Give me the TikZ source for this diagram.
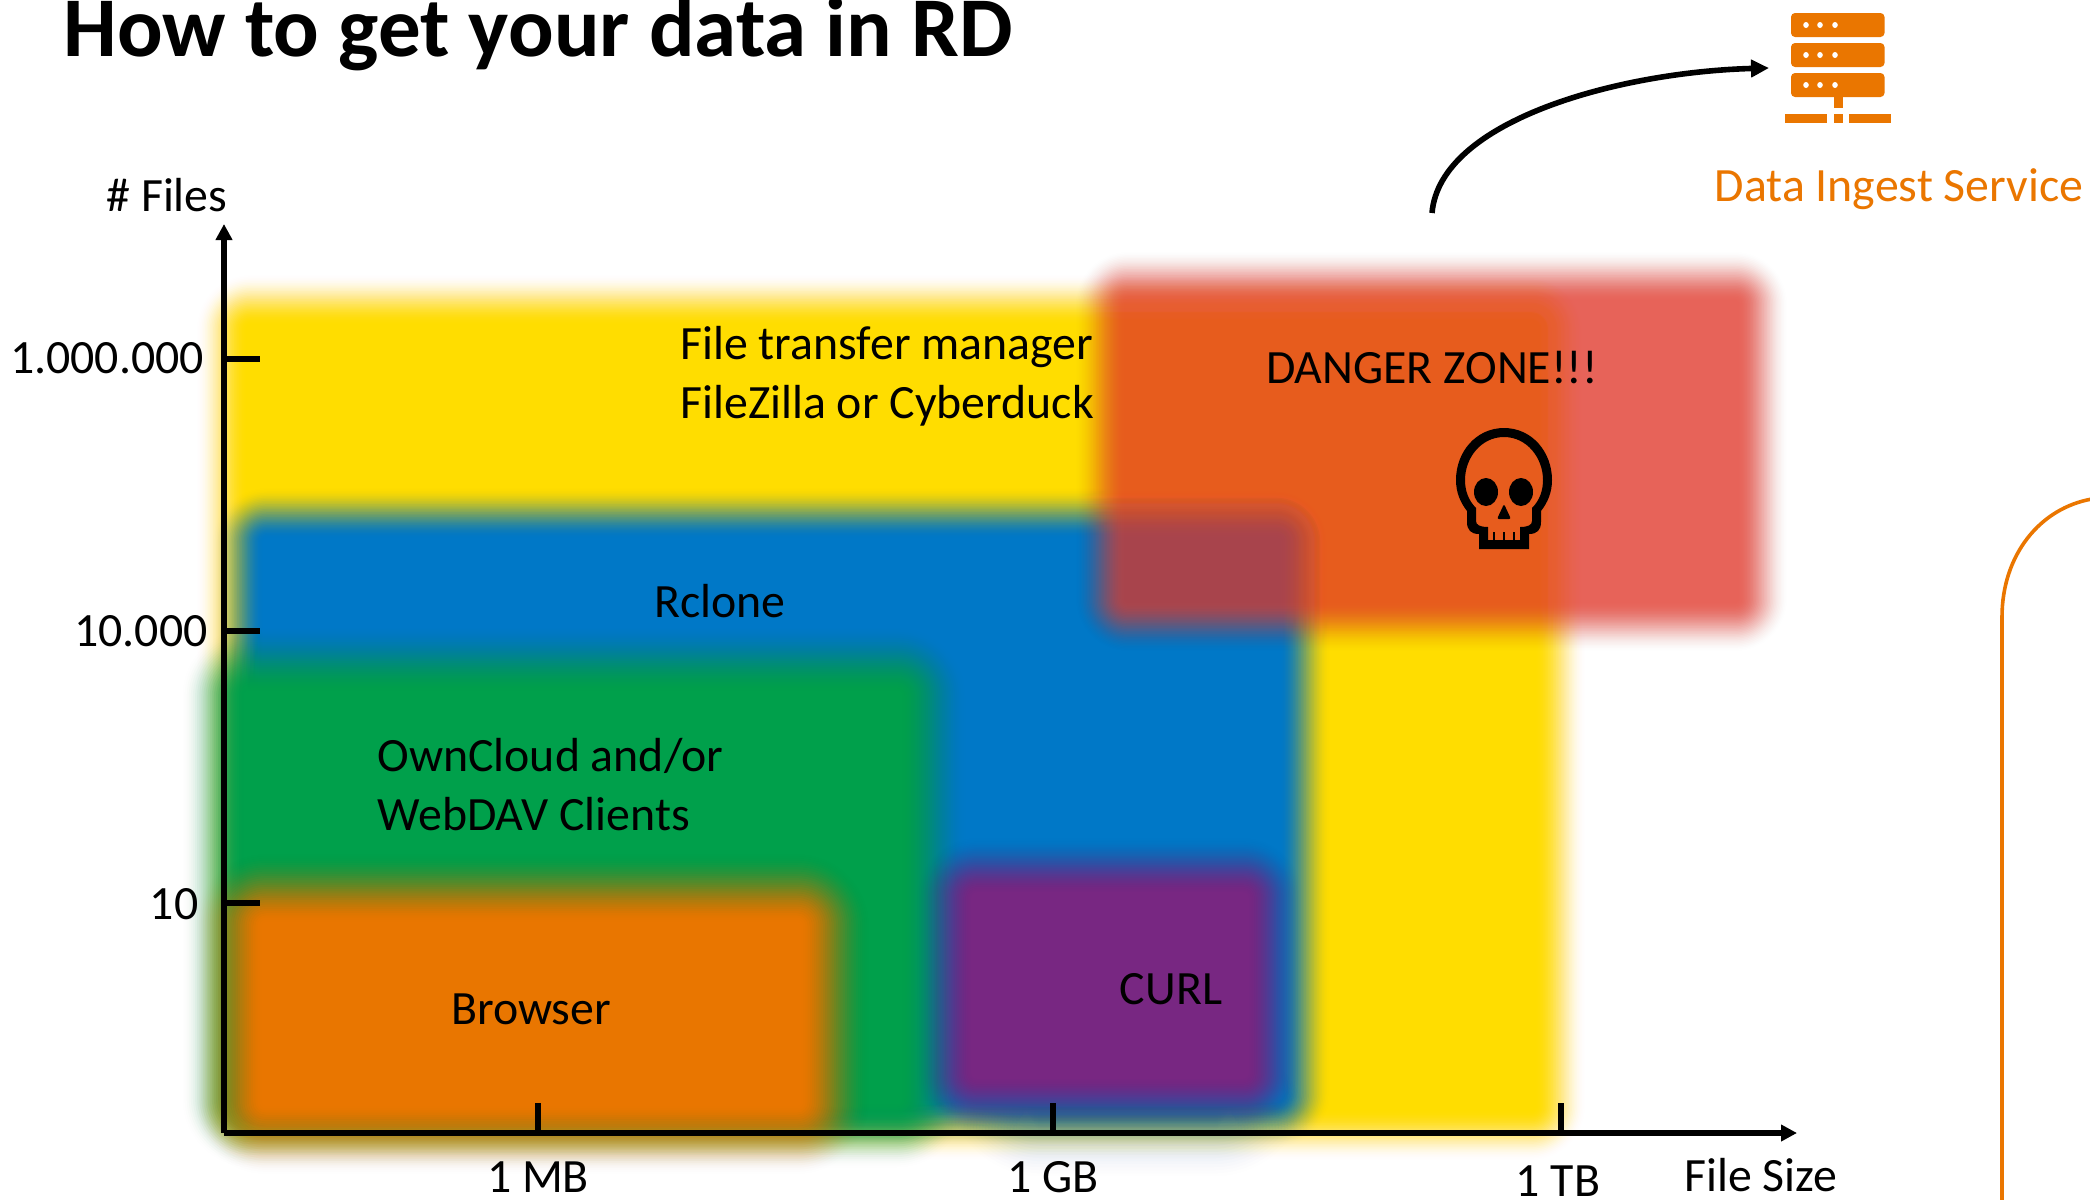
\documentclass[tikz,border=0pt]{standalone}
\usepackage{fontspec}
\setmainfont{Carlito}
\usetikzlibrary{arrows.meta}
\definecolor{cyellow}{HTML}{FFDD00}
\definecolor{cblue}{HTML}{0078C8}
\definecolor{cgreen}{HTML}{00A14B}
\definecolor{corange}{HTML}{EA7600}
\definecolor{cpurple}{HTML}{792782}
\definecolor{cdanger}{RGB}{231,62,48}
\newcommand{\softrect}[7]{%
  % colour, x1, y1, x2, y2, final alpha, blur width
  \gdef\prevC{0}%
  \foreach \k in {1,...,32}{%
    \pgfmathsetmacro{\tt}{\k/32}%
    \pgfmathsetmacro{\curC}{#6*\tt*\tt*(3-2*\tt)}%
    \pgfmathsetmacro{\aa}{min(1,(\curC-\prevC)/(1-\prevC+0.00001))}%
    \pgfmathsetmacro{\off}{#7/2-#7*(\k-1)/31}%
    \pgfmathsetmacro{\rr}{0.5*(\off+#7/2+4)}%
    \fill[#1,fill opacity=\aa,rounded corners=\rr pt]
      ({#2-\off},{#3-\off}) rectangle ({#4+\off},{#5+\off});
    \global\let\prevC\curC
  }%
}
\tikzset{
  lbl/.style={font=\fontsize{23.9}{27}\selectfont,text=black,inner sep=0pt,anchor=base},
  lblw/.style={lbl,anchor=base west},
  axis/.style={line width=3pt,black},
  tick/.style={line width=3pt,black},
  flow/.style={line width=2.8pt,black,-{Triangle[length=9pt,width=8.5pt]}},
  ruleline/.style={line width=1.8pt,corange},
  servicebar/.style={fill=corange,rounded corners=2pt},
  servicefoot/.style={fill=corange},
  servicedot/.style={fill=white}
}
\begin{document}
\begin{tikzpicture}[x=0.5pt,y=-0.5pt]
\fill[white] (0,0) rectangle (2090,1200);
\useasboundingbox (0,0) rectangle (2090,1200);
% blurred regions
\softrect{cyellow}{222}{300}{1560}{1135}{1}{50}
\softrect{cblue}{238}{513}{1305}{1122}{1}{50}
\softrect{cgreen}{215}{660}{933}{1135}{1}{65}
\softrect{corange}{228}{888}{835}{1140}{1}{68}
\softrect{cblue}{990}{1085}{1265}{1132}{0.45}{95}
\softrect{cpurple}{945}{866}{1275}{1105}{1}{56}
\softrect{cdanger}{1100}{276}{1763}{627}{0.76}{48}
% title
\node[anchor=base west,inner sep=0pt,font=\fontsize{42.5}{45}\selectfont\bfseries] (title) at (63,56) {How to get your data in RD};
% axes
\coordinate (o) at (224,1133);
\coordinate (xend) at (1797,1133);
\coordinate (yend) at (224,224);
\draw[axis,-{Triangle[length=8pt,width=8pt]}] (o) -- (xend);
\draw[axis,-{Triangle[length=8pt,width=8pt]}] (o) -- (yend);
\draw[tick] (538,1133) -- (538,1103);
\draw[tick] (1053,1133) -- (1053,1103);
\draw[tick] (1561,1133) -- (1561,1103);
\draw[tick] (224,359) -- (260,359);
\draw[tick] (224,631) -- (260,631);
\draw[tick] (224,903) -- (260,903);
% axis labels
\node[lbl] (files) at (167,211) {\# Files};
\node[lbl] (y1) at (107,373) {1.000.000};
\node[lbl] (y2) at (141,646) {10.000};
\node[lbl] (y3) at (174,919) {10};
\node[lbl] (x1) at (538,1192) {1 MB};
\node[lbl] (x2) at (1053,1192) {1 GB};
\node[lbl] (x3) at (1558,1196) {1 TB};
\node[lbl] (xname) at (1761,1191) {File Size};
% region labels
\node[lblw] (ft1) at (680,359) {File transfer manager};
\node[lblw] (ft2) at (680,418) {FileZilla or Cyberduck};
\node[lbl] (dz) at (1432,383) {DANGER ZONE!!!};
\node[lbl] (rc) at (720,617) {Rclone};
\node[lblw] (oc1) at (377,771) {OwnCloud and/or};
\node[lblw] (oc2) at (377,830) {WebDAV Clients};
\node[lbl] (br) at (531,1024) {Browser};
\node[lbl] (cu) at (1171,1004) {CURL};
% skull
\fill[black,even odd rule]
  (1504,428) .. controls (1532,428) and (1552,452) .. (1552,480)
  .. controls (1552,492) and (1548,502) .. (1541,511) -- (1541,522)
  .. controls (1541,530) and (1537,534) .. (1529,534) -- (1529,549) -- (1479,549) -- (1479,534)
  .. controls (1471,534) and (1467,530) .. (1467,522) -- (1467,511)
  .. controls (1460,502) and (1456,492) .. (1456,480)
  .. controls (1456,452) and (1476,428) .. (1504,428) -- cycle
  (1504,437) .. controls (1527,437) and (1543,458) .. (1543,480)
  .. controls (1543,490) and (1540,500) .. (1532,508) -- (1532,521)
  .. controls (1532,525) and (1528,527) .. (1520,527) -- (1520,540) -- (1488,540) -- (1488,527)
  .. controls (1480,527) and (1476,525) .. (1476,521) -- (1476,508)
  .. controls (1468,500) and (1465,490) .. (1465,480)
  .. controls (1465,458) and (1481,437) .. (1504,437) -- cycle;
\fill[black] (1486,492) ellipse (12 and 14);
\fill[black] (1521,492) ellipse (12 and 14);
\fill[black,rounded corners=1pt] (1504,504) -- (1511,519) -- (1497,519) -- cycle;
\draw[black,line width=1pt] (1494,532) -- (1494,540) (1504,532) -- (1504,540) (1514,532) -- (1514,540);
% server icon
\foreach \yy in {13,43,73}{
  \fill[servicebar] (1791,\yy) rectangle (1884.5,\yy+24);
  \foreach \xx in {1806,1820,1835}{
    \fill[servicedot] (\xx,\yy+12) ellipse (2.8 and 3);
  }
}
\fill[servicefoot] (1834,97) rectangle (1843,108);
\fill[servicefoot] (1785,114) rectangle (1827,123);
\fill[servicefoot] (1834,114) rectangle (1843,123);
\fill[servicefoot] (1849,114) rectangle (1891,123);
\node[lbl,text=corange] (dis) at (1899,201) {Data Ingest Service};
% curved arrow
\coordinate (arrS) at (1432,213);
\coordinate (arrE) at (1769,68);
\draw[flow] (arrS) .. controls (1440,120) and (1620,72) .. (arrE);
% outline at right
\draw[ruleline] (2092,499) .. controls (2040,508) and (2002,555) .. (2002,617) -- (2002,1202);
\end{tikzpicture}
\end{document}
